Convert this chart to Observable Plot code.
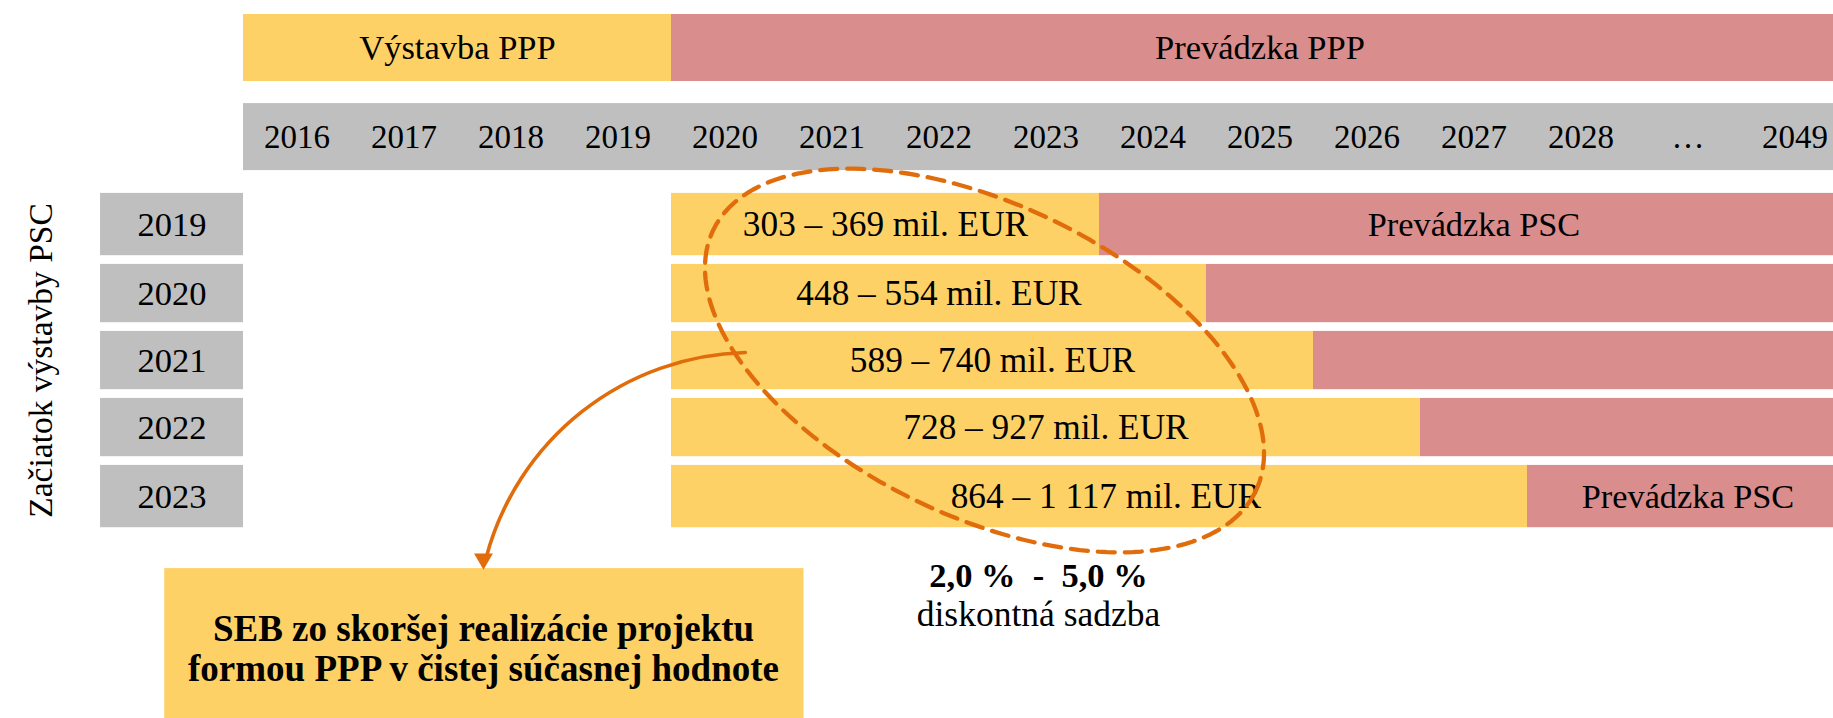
<!DOCTYPE html>
<html><head><meta charset="utf-8">
<script src="https://cdn.jsdelivr.net/npm/d3@7"></script>
<script src="https://cdn.jsdelivr.net/npm/@observablehq/plot@0.6"></script>
<style>
html,body{margin:0;padding:0;background:#fff;overflow:hidden}
#chart svg{display:block}
</style></head><body><div id="chart"></div>
<script>
// ---------- data ----------
const years = ["2016","2017","2018","2019","2020","2021","2022","2023","2024","2025","2026","2027","2028","…","2049"];
const phaseNames = ["Výstavba PPP", "Prevádzka PPP"];
const phaseStart = ["2016", "2020"];
const pscStartYears = ["2019","2020","2021","2022","2023"];
const pscConstructionStart = "2020";
const pscOperationStart = ["2024","2025","2026","2027","2028"];
const npvLow = [303, 448, 589, 728, 864];
const npvHigh = [369, 554, 740, 927, 1117];
const operationLabelRows = ["2019", "2023"];
const operationLabel = "Prevádzka PSC";
const rowAxisTitle = "Začiatok výstavby PSC";
const rateLow = "2,0 %", rateHigh = "5,0 %";
const rateTitle = "diskontná sadzba";
const boxText = "SEB zo skoršej realizácie projektu\nformou PPP v čistej súčasnej hodnote";

// ---------- layout (column / row units) ----------
const W = 1833, H = 718;
const X0 = 243, COL = 107, NCOL = years.length;
const Y0 = 14, ROW = 67;
const YELLOW = "#FED166", PINK = "#D98D8C", GRAY = "#BFBFBF", ORANGE = "#E06C0B";
const FONT = "Liberation Serif";
const col = y => years.indexOf(y);
const fmt = n => String(n).replace(/\B(?=(\d{3})+(?!\d))/g, " ");

const phases = phaseNames.map((name, i) => ({
  name, x1: col(phaseStart[i]), x2: i + 1 < phaseStart.length ? col(phaseStart[i + 1]) : NCOL, y1: 0, y2: 1
}));
const yearBar = [{x1: 0, x2: NCOL, y1: 1.33, y2: 2.33}];
const yearCells = years.map((y, i) => ({label: y, x: i + 0.5, y: 1.83}));

const rows = pscStartYears.map((yr, i) => {
  const y1 = i === 0 ? 2.67 : 2.73 + i;
  const y2 = i === pscStartYears.length - 1 ? 3.66 + i : 3.6 + i;
  const a = col(pscConstructionStart), b = col(pscOperationStart[i]);
  return {yr, y1, y2, ym: (y1 + y2) / 2, a, b, value: `${fmt(npvLow[i])} – ${fmt(npvHigh[i])} mil. EUR`,
          op: operationLabelRows.includes(yr)};
});

// dashed ellipse around the NPV labels (pixel-space shape converted to units)
const ecx = 984, ecy = 360, ea = 301, eb = 156, eth = 25.7 * Math.PI / 180;
const ellipse = d3.range(0, 361, 2).map(t => {
  const r = t * Math.PI / 180;
  const px = ecx + ea * Math.cos(r) * Math.cos(eth) - eb * Math.sin(r) * Math.sin(eth);
  const py = ecy + ea * Math.cos(r) * Math.sin(eth) + eb * Math.sin(r) * Math.cos(eth);
  return {x: (px - X0) / COL, y: (py - Y0) / ROW};
});

const box = {x1: -0.736, x2: 5.238, y1: 8.27, y2: 10.6};
const boxCx = 2.243;

const txt = (data, o) => Plot.text(data, {fontFamily: FONT, fill: "#000", textAnchor: "middle", lineAnchor: "middle", ...o});

const plot = Plot.plot({
  width: W, height: H, margin: 0,
  x: {domain: [0, NCOL], range: [X0, X0 + NCOL * COL], axis: null},
  y: {domain: [0, 10.6], range: [Y0, Y0 + 10.6 * ROW], axis: null},
  marks: [
    // phase header
    Plot.rect(phases, {x1: "x1", x2: "x2", y1: "y1", y2: "y2", fill: (d, i) => i === 0 ? YELLOW : PINK}),
    txt(phases, {x: d => (d.x1 + d.x2) / 2, y: 0.5, text: "name", fontSize: 34.5}),
    // year band
    Plot.rect(yearBar, {x1: "x1", x2: "x2", y1: "y1", y2: "y2", fill: GRAY}),
    txt(yearCells, {x: "x", y: "y", text: "label", fontSize: 33}),
    // row label boxes
    Plot.rect(rows, {x1: -1.336, x2: 0, y1: "y1", y2: "y2", fill: GRAY}),
    txt(rows, {x: -0.668, y: "ym", text: "yr", fontSize: 34.5}),
    // construction / operation bars
    Plot.rect(rows, {x1: "a", x2: "b", y1: "y1", y2: "y2", fill: YELLOW}),
    Plot.rect(rows, {x1: "b", x2: NCOL, y1: "y1", y2: "y2", fill: PINK}),
    txt(rows, {x: d => (d.a + d.b) / 2 + (d.yr === "2023" ? 0.06 : 0), y: "ym", text: "value", fontSize: 35.3}),
    txt(rows.filter(d => d.op), {x: d => (d.b + NCOL) / 2, y: "ym", text: () => operationLabel, fontSize: 34.3}),
    // vertical axis title
    txt([rowAxisTitle], {x: -1.888, y: 5.164, text: d => d, rotate: -90, fontSize: 33.5}),
    // dashed ellipse
    Plot.line(ellipse, {x: "x", y: "y", curve: "linear-closed", stroke: ORANGE, strokeWidth: 4.3, strokeDasharray: "17,10"}),
    // discount rate
    txt([`${rateLow}  -  ${rateHigh}`], {x: 7.43, y: 8.38, text: d => d, fontSize: 34.5, fontWeight: "bold"}),
    txt([rateTitle], {x: 7.43, y: 8.95, text: d => d, fontSize: 35.5}),
    // result box
    Plot.rect([box], {x1: "x1", x2: "x2", y1: "y1", y2: "y2", fill: YELLOW}),
    txt([boxText], {x: boxCx, y: 9.46, text: d => d, fontSize: 37, fontWeight: "bold", lineHeight: 1.08}),
    // curved arrow
    Plot.arrow([{}], {x1: 4.69, y1: 5.045, x2: boxCx, y2: 8.27, bend: -38, stroke: ORANGE, strokeWidth: 3.6, headLength: 0, insetEnd: 12}),
    Plot.dot([{}], {x: boxCx, y: 8.125, symbol: "triangle", r: 7, rotate: 180, fill: ORANGE, stroke: "none"})
  ]
});
document.getElementById("chart").appendChild(plot);
</script></body></html>
